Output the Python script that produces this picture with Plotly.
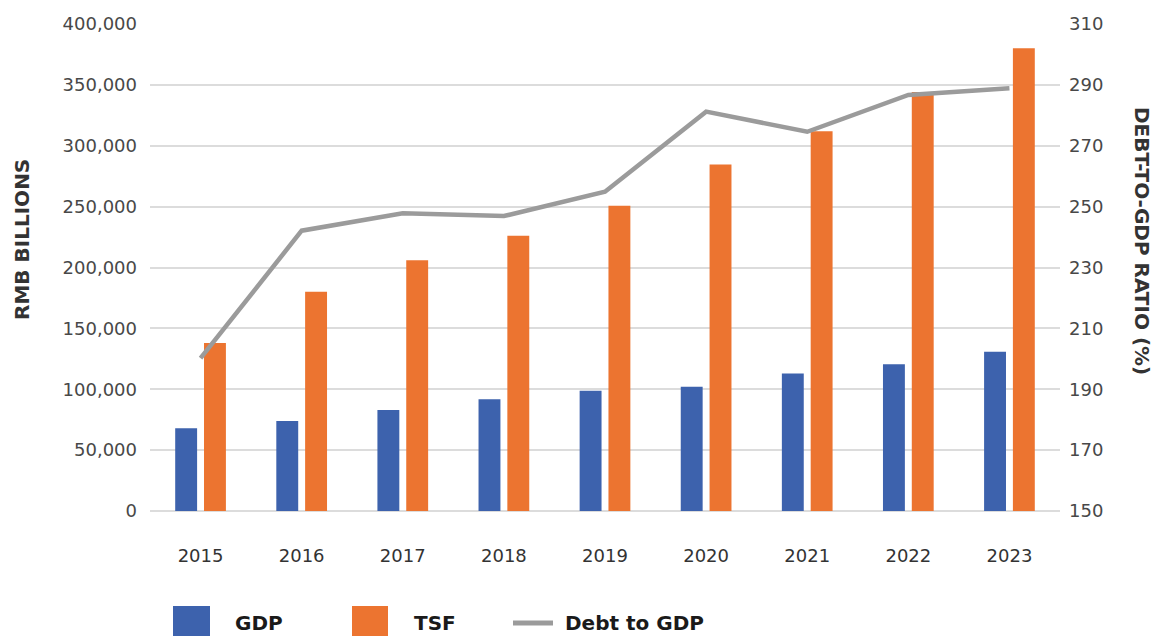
import plotly.graph_objects as go

# ---- data ----
years = ["2015", "2016", "2017", "2018", "2019", "2020", "2021", "2022", "2023"]
gdp = [68000, 74000, 83000, 91700, 98800, 102000, 113000, 120500, 130800]
tsf = [138000, 180000, 206000, 226000, 250700, 284600, 312000, 344200, 380000]
debt_to_gdp = [200.2, 242.1, 247.8, 246.9, 254.9, 281.2, 274.6, 286.7, 288.9]

left_ticks = [0, 50000, 100000, 150000, 200000, 250000, 300000, 350000, 400000]
right_ticks = [150, 170, 190, 210, 230, 250, 270, 290, 310]

# ---- style ----
BLUE = "#3D62AD"
ORANGE = "#EC7430"
GRAY = "#9B9B9B"
FONT = "DejaVu Sans"

W, H = 1159, 636
ML, MR, MT, MB = 150, 99, 24, 125
PW, PH = W - ML - MR, H - MT - MB


def px(x):
    return (x - ML) / PW


def py(y):
    return (H - MB - y) / PH


fig = go.Figure()
fig.add_trace(go.Bar(x=years, y=gdp, name="GDP", marker=dict(color=BLUE, line=dict(width=0)),
                     showlegend=False))
fig.add_trace(go.Bar(x=years, y=tsf, name="TSF", marker=dict(color=ORANGE, line=dict(width=0)),
                     showlegend=False))
fig.add_trace(go.Scatter(x=years, y=debt_to_gdp, name="Debt to GDP", yaxis="y2", mode="lines",
                         line=dict(color=GRAY, width=4.5), showlegend=False))

fig.update_layout(
    width=W, height=H,
    margin=dict(l=ML, r=MR, t=MT, b=MB),
    paper_bgcolor="white", plot_bgcolor="white",
    barmode="group", bargap=0.43, bargroupgap=0.24,
    font=dict(family=FONT, size=18, color="#444444"),
    xaxis=dict(type="category", showgrid=False, showline=False, zeroline=False, ticks="",
               tickfont=dict(family=FONT, size=18, color="#333333"), ticklabelstandoff=32),
    yaxis=dict(range=[0, 400000], tickvals=left_ticks, tickformat=",", showgrid=True,
               gridcolor="#DCDCDC", gridwidth=1.5, zeroline=True, zerolinecolor="#DCDCDC",
               zerolinewidth=1.5, showline=False, ticks="", ticklabelstandoff=12,
               tickfont=dict(family=FONT, size=18, color="#484848")),
    yaxis2=dict(range=[150, 310], tickvals=right_ticks, overlaying="y", side="right",
                showgrid=False, zeroline=False, showline=False, ticks="", ticklabelstandoff=8,
                tickfont=dict(family=FONT, size=18, color="#484848")),
)

# axis titles
fig.add_annotation(text="<b>RMB BILLIONS</b>", x=px(22), y=py(240), xref="paper", yref="paper",
                   textangle=-90, showarrow=False, xanchor="center", yanchor="middle",
                   font=dict(family=FONT, size=20, color="#333333"))
fig.add_annotation(text="<b>DEBT-TO-GDP RATIO (%)</b>", x=px(1142), y=py(241), xref="paper", yref="paper",
                   textangle=90, showarrow=False, xanchor="center", yanchor="middle",
                   font=dict(family=FONT, size=20, color="#333333"))

# legend (drawn manually to match large swatches)
fig.add_shape(type="rect", xref="paper", yref="paper", x0=px(173), x1=px(210), y0=py(606), y1=py(645),
              fillcolor=BLUE, line=dict(width=0))
fig.add_shape(type="rect", xref="paper", yref="paper", x0=px(352), x1=px(388), y0=py(606), y1=py(645),
              fillcolor=ORANGE, line=dict(width=0))
fig.add_shape(type="line", xref="paper", yref="paper", x0=px(513), x1=px(553), y0=py(623), y1=py(623),
              line=dict(color=GRAY, width=5))
for label, xl in [("GDP", 233), ("TSF", 412), ("Debt to GDP", 563)]:
    fig.add_annotation(text="<b>" + label + "</b>", x=px(xl), y=py(623), xref="paper", yref="paper",
                       showarrow=False, xanchor="left", yanchor="middle",
                       font=dict(family=FONT, size=20, color="#1a1a1a"))

fig.write_html("out.html")
